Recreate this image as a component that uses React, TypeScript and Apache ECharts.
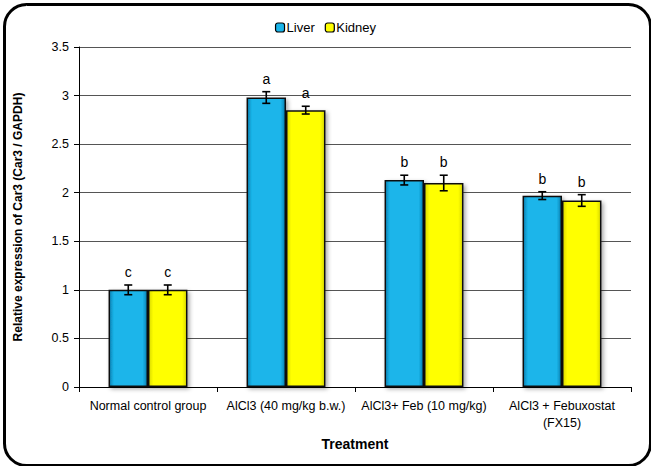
import React, { useEffect, useRef } from "react";
import * as echarts from "echarts";

const categories = [
  "Normal control group",
  "AlCl3 (40 mg/kg b.w.)",
  "AlCl3+ Feb (10 mg/kg)",
  "AlCl3 + Febuxostat\n(FX15)",
];
const liverValues = [1.0, 2.98, 2.13, 1.97];
const kidneyValues = [1.0, 2.85, 2.1, 1.92];
const liverErrors = [0.05, 0.06, 0.05, 0.04];
const kidneyErrors = [0.05, 0.04, 0.08, 0.06];
const liverLetters = ["c", "a", "b", "b"];
const kidneyLetters = ["c", "a", "b", "b"];
const yTicks = [0, 0.5, 1, 1.5, 2, 2.5, 3, 3.5];

const FONT = "Liberation Sans, Arial, sans-serif";
const BAR_FRAC = 0.286;

function barGradient(mid: string, edge: string) {
  return new echarts.graphic.LinearGradient(0, 0, 1, 0, [
    { offset: 0, color: edge },
    { offset: 0.12, color: mid },
    { offset: 0.88, color: mid },
    { offset: 1, color: edge },
  ]);
}

function errorSeries(name: string, values: number[], errors: number[], letters: string[], side: number) {
  return {
    type: "custom",
    name: name + "-err",
    z: 10,
    silent: true,
    data: values.map((v, i) => [i, v, errors[i]]),
    renderItem: (params: any, api: any) => {
      const i = api.value(0);
      const v = api.value(1);
      const e = api.value(2);
      const band = api.size([1, 0])[0];
      const bw = band * BAR_FRAC;
      const c = api.coord([i, v]);
      const x = c[0] + side * bw / 2;
      const top = api.coord([i, v + e])[1];
      const bot = api.coord([i, v - e])[1];
      const cap = 4;
      const st = { stroke: "#000", lineWidth: 1.6 };
      return {
        type: "group",
        children: [
          { type: "line", shape: { x1: x, y1: top, x2: x, y2: bot }, style: st },
          { type: "line", shape: { x1: x - cap, y1: top, x2: x + cap, y2: top }, style: st },
          { type: "line", shape: { x1: x - cap, y1: bot, x2: x + cap, y2: bot }, style: st },
          {
            type: "text",
            x: x,
            y: top - 6,
            style: {
              text: letters[i],
              fontFamily: FONT,
              fontSize: 14,
              fill: "#000",
              align: "center",
              verticalAlign: "bottom",
            },
          },
        ],
      };
    },
  };
}

export default function App() {
  const ref = useRef<HTMLDivElement>(null);
  useEffect(() => {
    const chart = echarts.init(ref.current!, null, { renderer: "svg" });
    chart.setOption({
      animation: false,
      backgroundColor: "#fff",
      textStyle: { fontFamily: FONT },
      legend: {
        top: 16,
        left: "center",
        itemWidth: 9,
        itemHeight: 9,
        itemGap: 10,
        data: ["Liver", "Kidney"],
        itemStyle: { borderColor: "#000", borderWidth: 1.2 },
        textStyle: { fontFamily: FONT, fontSize: 13, color: "#000", padding: [0, 0, 0, -3] },
      },
      grid: { left: 79, right: 20, top: 47, bottom: 79 },
      xAxis: {
        type: "category",
        data: categories,
        name: "Treatment",
        nameLocation: "middle",
        nameGap: 50,
        nameTextStyle: { fontFamily: FONT, fontSize: 14, fontWeight: "bold", color: "#000" },
        axisLine: { lineStyle: { color: "#000", width: 1 } },
        axisTick: { show: true, length: 5, lineStyle: { color: "#000" } },
        axisLabel: { fontFamily: FONT, fontSize: 12.5, color: "#000", margin: 10, interval: 0, lineHeight: 17 },
      },
      yAxis: {
        type: "value",
        min: 0,
        max: 3.5,
        interval: 0.5,
        name: "Relative expression of Car3 (Car3 / GAPDH)",
        nameLocation: "middle",
        nameGap: 55,
        nameRotate: 90,
        nameTextStyle: { fontFamily: FONT, fontSize: 12, fontWeight: "bold", color: "#000" },
        axisLine: { show: true, lineStyle: { color: "#000", width: 1 } },
        axisTick: { show: true, length: 5, lineStyle: { color: "#000" } },
        axisLabel: {
          fontFamily: FONT,
          fontSize: 12.5,
          color: "#000",
          margin: 10,
          formatter: (v: number) => (yTicks.includes(v) ? String(v) : ""),
        },
        splitLine: { show: true, lineStyle: { color: "#555", width: 1 } },
      },
      series: [
        {
          type: "bar",
          name: "Liver",
          data: liverValues,
          barWidth: (BAR_FRAC * 100).toFixed(1) + "%",
          barGap: "0%",
          itemStyle: {
            color: barGradient("#1ab5ea", "#0a7fb0"),
            borderColor: "#111",
            borderWidth: 1.5,
            shadowColor: "rgba(0,0,0,0.35)",
            shadowBlur: 4,
            shadowOffsetX: 2,
            shadowOffsetY: 2,
          },
        },
        {
          type: "bar",
          name: "Kidney",
          data: kidneyValues,
          barWidth: (BAR_FRAC * 100).toFixed(1) + "%",
          barGap: "0%",
          itemStyle: {
            color: barGradient("#ffff00", "#d8d800"),
            borderColor: "#111",
            borderWidth: 1.5,
            shadowColor: "rgba(0,0,0,0.35)",
            shadowBlur: 4,
            shadowOffsetX: 2,
            shadowOffsetY: 2,
          },
        },
        errorSeries("Liver", liverValues, liverErrors, liverLetters, -1),
        errorSeries("Kidney", kidneyValues, kidneyErrors, kidneyLetters, 1),
      ],
      graphic: [
        {
          type: "rect",
          left: 2,
          top: 2,
          shape: { width: 646, height: 461, r: 22 },
          style: { fill: "none", stroke: "#000", lineWidth: 3 },
          silent: true,
          z: 100,
        },
      ],
    });
    return () => chart.dispose();
  }, []);
  return (
    <div
      ref={ref}
      style={{ position: "fixed", left: 0, top: 0, width: 651, height: 466 }}
    />
  );
}
